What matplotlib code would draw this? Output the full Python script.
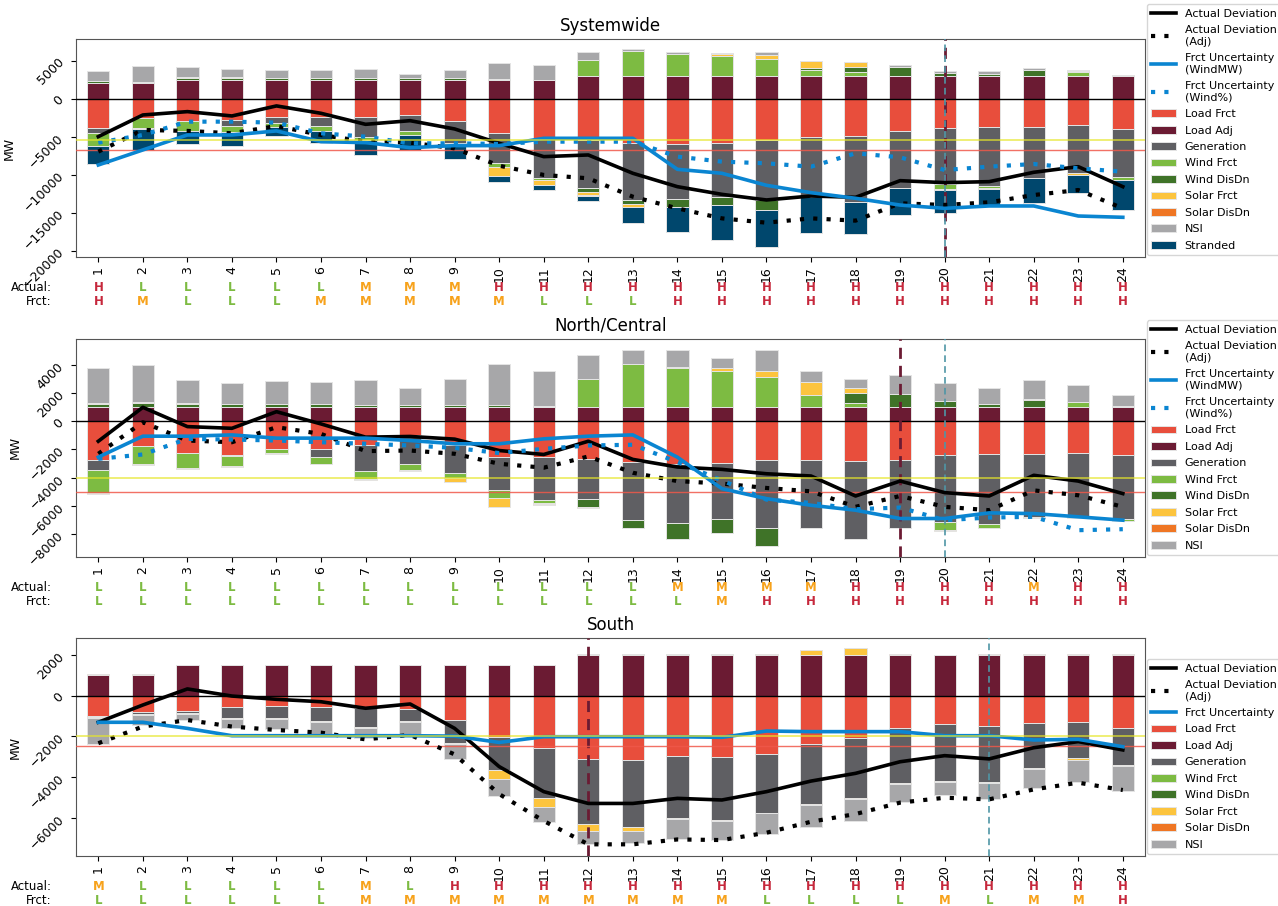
"""
Hourly deviation breakdown by region (Systemwide / North-Central / South).
Stacked components around zero plus deviation and forecast-uncertainty lines.
"""

import numpy as np
import matplotlib
matplotlib.use("Agg")
import matplotlib.pyplot as plt
from matplotlib.transforms import blended_transform_factory

hours = list(range(1, 25))

# ---------------- Systemwide ----------------
sw_load_frct = [-3800, -2600, -3000, -2800, -2400, -2450, -2400, -2150, -2900, -4550, -5200, -5450,
                -5900, -5950, -5800, -5450, -5100, -4900, -4250, -3800, -3750, -3750, -3450, -4050]
sw_load_adj = [2000, 2000, 2500, 2500, 2500, 2500, 2500, 2500, 2500, 2500, 2500, 3000,
               3000, 3000, 3000, 3000, 3000, 3000, 3000, 3000, 3000, 3000, 3000, 3000]
sw_generation = [-750, 0, 0, -800, -850, -1200, -2600, -2100, -3000, -3950, -5250, -6350,
                 -7450, -7300, -7100, -7900, -7900, -8650, -7550, -7400, -7700, -6750, -6300, -6200]
sw_wind_frct = [-1700, -1300, -1300, -750, -450, -550, -450, -500, 0, -450, -200, 2100,
                3200, 2900, 2650, 2180, 800, 440, 0, -700, -350, 0, 480, -450]
sw_wind_disdn = [300, 200, 250, 250, 150, 150, 150, 150, 150, 100, 0, -500,
                 -500, -1050, -1100, -1300, 200, 660, 1100, 350, 250, 700, 100, 0]
sw_solar_frct = [0, -100, 0, 0, 0, 0, 0, 0, -300, -1230, -660, -350,
                 -350, 0, 250, 570, 1000, 700, 0, -100, -100, 0, -300, 0]
sw_solar_disdn = [50, 50, 100, 100, 100, 100, 100, 100, 50, 0, 0, -100,
                  -100, 0, 0, 0, 0, 0, 0, 0, 50, 0, 0, 0]
sw_nsi = [1300, 2000, 1300, 1000, 1000, 1000, 1100, 500, 1100, 2100, 1900, 1000,
          350, 200, 100, 440, 0, 0, 350, 300, 300, 300, 150, 150]
sw_stranded = [-2400, -2750, -1650, -1830, -1200, -1700, -1950, -2000, -1780, -740, -700, -700,
               -2000, -3300, -4600, -4900, -4700, -4300, -3500, -3100, -2100, -3200, -2400, -4000]

sw_actual = [-5000, -2150, -1710, -2280, -960, -1930, -3380, -2900, -3990, -5880, -7630, -7410,
             -9820, -11580, -12590, -13330, -12810, -12980, -10790, -11050, -10920, -9690, -8950, -11580]
sw_actual_adj = [-6970, -4120, -4250, -4560, -3600, -4780, -5660, -5790, -6540, -8820, -10040, -10480,
                 -12900, -14430, -15750, -16320, -15750, -16050, -13770, -13990, -13640, -12680, -12020, -14430]
sw_unc_mw = [-8730, -6750, -4780, -4780, -4250, -5660, -5790, -6450, -6180, -6180, -5220, -5220,
             -5220, -9300, -9820, -11400, -12370, -13110, -14000, -14430, -14120, -14120, -15440, -15610]
sw_unc_pct = [-5790, -4780, -3030, -3030, -3160, -4560, -5000, -5880, -5880, -5960, -5660, -5660,
              -5660, -7630, -8290, -8510, -8950, -7190, -7720, -9390, -8950, -8600, -9170, -9610]
sw_actual_rating = list("HLLLLLMMMHHHHHHHHHHHHHHH")
sw_frct_rating = list("HMLLLMMMMMLLLHHHHHHHHHHH")

# ---------------- North/Central ----------------
nc_load_frct = [-2780, -1790, -2240, -2380, -1960, -1960, -1720, -1010, -1720, -2550, -2550, -2670,
                -2900, -3070, -2950, -2740, -2780, -2850, -2780, -2380, -2310, -2360, -2240, -2380]
nc_load_adj = [1000] * 24
nc_generation = [-660, 0, 0, -100, 0, -590, -1840, -2010, -1960, -2310, -3020, -2830,
                 -4130, -4190, -3960, -4810, -4790, -5520, -4790, -4770, -5020, -4430, -4550, -4600]
nc_wind_frct = [-1650, -1230, -1090, -700, -300, -470, -520, -420, -350, -560, -230, 2000,
                3100, 2750, 2540, 2110, 890, 330, 0, -590, -290, 0, 350, -80]
nc_wind_disdn = [240, 300, 240, 240, 210, 240, 170, 170, 170, 120, 50, -590,
                 -520, -1110, -1060, -1320, 0, 700, 930, 420, 210, 540, 0, 100]
nc_solar_frct = [-70, -70, -70, -50, -50, 0, -70, -70, -280, -660, -100, -50,
                 -50, 70, 240, 470, 880, 330, -50, -50, 0, -50, -50, -30]
nc_solar_disdn = [50, 50, 50, 0, 0, 0, 0, 0, 0, 0, -70, 0,
                  0, 0, 0, 0, 0, 0, 0, 0, 0, 50, 50, 0]
nc_nsi = [2480, 2650, 1660, 1500, 1670, 1570, 1780, 1160, 1830, 2940, 2530, 1690,
          970, 1230, 750, 1490, 810, 660, 1370, 1290, 1120, 1360, 1150, 790]

nc_actual = [-1420, 990, -380, -500, 680, -190, -1130, -1080, -1270, -2080, -2360, -1420,
             -2710, -3250, -3420, -3730, -3890, -5310, -4250, -5070, -5310, -3840, -4250, -5140]
nc_actual_adj = [-2310, -70, -1370, -1490, -420, -900, -2120, -2080, -2310, -3020, -3300, -2500,
                 -3660, -4250, -4430, -4740, -4980, -6080, -5310, -6080, -6320, -4910, -5260, -6080]
nc_unc_mw = [-2550, -1060, -1060, -970, -1200, -1200, -1200, -1370, -1600, -1600, -1250, -1060,
             -970, -2550, -4790, -5500, -5970, -6320, -6910, -6910, -6510, -6560, -6790, -7030]
nc_unc_pct = [-2670, -2360, -1250, -1300, -1370, -1490, -1600, -1720, -1890, -2260, -1960, -1720,
              -1670, -2900, -4200, -5570, -5800, -6250, -6130, -7030, -6840, -6790, -7740, -7670]
nc_actual_rating = list("LLLLLLLLLLLLLMMMMHHHHMHH")
nc_frct_rating = list("LLLLLLLLLLLLLLMHHHHHHHHH")

# ---------------- South ----------------
so_load_frct = [-1000, -790, -740, -540, -510, -570, -620, -670, -1200, -2020, -2590, -3110,
                -3160, -2950, -3000, -2890, -2380, -2070, -1570, -1390, -1480, -1360, -1300, -1610]
so_load_adj = [1000, 1000, 1500, 1500, 1500, 1500, 1500, 1500, 1500, 1500, 1500, 2000,
               2000, 2000, 2000, 2000, 2000, 2000, 2000, 2000, 2000, 2000, 2000, 2000]
so_generation = [-70, -110, -100, -570, -600, -680, -900, -580, -1110, -1640, -2430, -3220,
                 -3280, -3050, -3110, -2860, -2960, -2950, -2740, -2790, -2750, -2210, -1780, -1800]
so_wind_frct = [0, 0, 0, 0, 0, 0, 0, 0, 0, 0, 30, 30,
                30, 30, 30, 0, 0, 0, 0, 0, 0, 0, 0, 0]
so_wind_disdn = [0] * 24
so_solar_frct = [-50, -50, -50, -50, -50, -50, -80, -70, -80, -440, -470, -330,
                 -200, -60, 0, 40, 220, 340, -50, -50, -50, -50, -60, -70]
so_solar_disdn = [50, 50, 30, 30, 30, 30, 30, 30, 20, 0, 0, 0,
                  0, 0, -30, -30, -50, -50, 30, 20, 30, 30, 30, 30]
so_nsi = [-1260, -490, -310, -440, -490, -590, -500, -610, -720, -830, -740, -650,
          -590, -1010, -960, -1040, -1050, -1090, -850, -660, -820, -940, -1090, -1210]

so_actual = [-1310, -460, 330, -20, -180, -300, -620, -410, -1610, -3490, -4720, -5300,
             -5300, -5050, -5130, -4720, -4200, -3820, -3250, -2950, -3110, -2560, -2260, -2670]
so_actual_adj = [-2340, -1520, -1200, -1520, -1690, -1820, -2150, -1930, -2890, -4840, -6160, -7310,
                 -7310, -7070, -7100, -6740, -6200, -5820, -5260, -5020, -5100, -4610, -4280, -4640]
so_unc = [-1310, -1310, -1610, -1970, -1970, -1970, -1970, -1970, -1990, -2300, -2020, -2020,
          -2020, -2020, -2050, -1740, -1770, -1770, -1770, -1970, -1970, -2180, -2150, -2510]
so_actual_rating = list("MLLLLLMLHHHHHHHHHHHHHHHH")
so_frct_rating = list("LLLLLLMMMMMMMMMLLLLMLMMH")

# ---------------- style ----------------
COMP_COLORS = {
    'Load Frct': '#e84e3c',
    'Load Adj': '#6b1b33',
    'Generation': '#5f5f63',
    'Wind Frct': '#7dbb42',
    'Wind DisDn': '#3f7328',
    'Solar Frct': '#fcc43e',
    'Solar DisDn': '#ef7624',
    'NSI': '#a7a7a9',
    'Stranded': '#00476d',
}
RATING_COLORS = {'L': '#7dbb42', 'M': '#f7a21b', 'H': '#c6283c'}
BLUE = '#0a85d1'


def draw_panel(ax, title, comps, lines, actual_r, frct_r, hlines, vlines, ylim, yticks):
    """Draw one regional panel."""
    x = np.array(hours)
    pos = np.zeros(len(x))
    neg = np.zeros(len(x))
    bar_handles = []
    for name, vals in comps:
        v = np.array(vals, dtype=float)
        bottom = np.where(v >= 0, pos, neg)
        h = ax.bar(x, v, width=0.5, bottom=bottom, color=COMP_COLORS[name],
                   edgecolor='#e4e4e4', linewidth=0.7, label=name, zorder=2)
        bar_handles.append(h)
        pos += np.clip(v, 0, None)
        neg += np.clip(v, None, 0)

    # reference lines
    ax.axhline(0, color='black', lw=1, zorder=3)
    ax.axvline(vlines[0], color='#6b1b33', lw=2, ls=(0, (4, 2.5)), zorder=3)
    ax.axvline(vlines[1], color='#4f96a6', lw=1.2, ls=(0, (4, 2.5)), zorder=3)

    line_handles = []
    for label, vals, color, ls in lines:
        if ls == ':':
            h, = ax.plot(x, vals, color=color, lw=3, ls=(0, (1, 2.2)), label=label, zorder=4)
        else:
            h, = ax.plot(x, vals, color=color, lw=2.6, label=label, zorder=4)
        line_handles.append(h)

    # threshold lines sit on top, semi-transparent
    ax.axhline(hlines[0], color='#e6e62a', lw=1.3, alpha=0.7, zorder=5)
    ax.axhline(hlines[1], color='#f0584a', lw=1, alpha=0.85, zorder=3)

    ax.set_xlim(0.5, 24.5)
    ax.set_ylim(*ylim)
    ax.set_yticks(yticks)
    ax.set_xticks(x)
    ax.set_xticklabels([str(h) for h in hours], rotation=90, fontsize=9)
    plt.setp(ax.get_yticklabels(), rotation=45, fontsize=9)
    ax.set_ylabel('MW', fontsize=9)
    ax.set_title(title, fontsize=12)
    for s in ax.spines.values():
        s.set_color('#555555')

    # rating rows under the axis
    trans = blended_transform_factory(ax.transData, ax.transAxes)
    ax.text(-0.05, -0.14, 'Actual:', transform=trans, ha='right', va='center', fontsize=8.5)
    ax.text(-0.05, -0.205, 'Frct:', transform=trans, ha='right', va='center', fontsize=8.5)
    for xi, a, f in zip(x, actual_r, frct_r):
        ax.text(xi, -0.14, a, transform=trans, ha='center', va='center',
                fontsize=8.5, fontweight='bold', color=RATING_COLORS[a])
        ax.text(xi, -0.205, f, transform=trans, ha='center', va='center',
                fontsize=8.5, fontweight='bold', color=RATING_COLORS[f])

    ax.legend(handles=line_handles + bar_handles, loc='lower left', bbox_to_anchor=(1.0, 0.0),
              borderaxespad=0.15, fontsize=8, handlelength=2.2, labelspacing=0.58)


fig = plt.figure(figsize=(12.78, 9.06), dpi=100)
ax1 = fig.add_axes([0.0595, 0.7166, 0.8365, 0.2400])
ax2 = fig.add_axes([0.0595, 0.3856, 0.8365, 0.2400])
ax3 = fig.add_axes([0.0595, 0.0555, 0.8365, 0.2400])

draw_panel(
    ax1, 'Systemwide',
    [('Load Frct', sw_load_frct), ('Load Adj', sw_load_adj), ('Generation', sw_generation),
     ('Wind Frct', sw_wind_frct), ('Wind DisDn', sw_wind_disdn), ('Solar Frct', sw_solar_frct),
     ('Solar DisDn', sw_solar_disdn), ('NSI', sw_nsi), ('Stranded', sw_stranded)],
    [('Actual Deviation', sw_actual, 'black', '-'),
     ('Actual Deviation\n(Adj)', sw_actual_adj, 'black', ':'),
     ('Frct Uncertainty\n(WindMW)', sw_unc_mw, BLUE, '-'),
     ('Frct Uncertainty\n(Wind%)', sw_unc_pct, BLUE, ':')],
    sw_actual_rating, sw_frct_rating, (-5450, -6750), (20, 20),
    (-20800, 7800), [-20000, -15000, -10000, -5000, 0, 5000])

draw_panel(
    ax2, 'North/Central',
    [('Load Frct', nc_load_frct), ('Load Adj', nc_load_adj), ('Generation', nc_generation),
     ('Wind Frct', nc_wind_frct), ('Wind DisDn', nc_wind_disdn), ('Solar Frct', nc_solar_frct),
     ('Solar DisDn', nc_solar_disdn), ('NSI', nc_nsi)],
    [('Actual Deviation', nc_actual, 'black', '-'),
     ('Actual Deviation\n(Adj)', nc_actual_adj, 'black', ':'),
     ('Frct Uncertainty\n(WindMW)', nc_unc_mw, BLUE, '-'),
     ('Frct Uncertainty\n(Wind%)', nc_unc_pct, BLUE, ':')],
    nc_actual_rating, nc_frct_rating, (-4030, -5020), (19, 20),
    (-9620, 5830), [-8000, -6000, -4000, -2000, 0, 2000, 4000])

draw_panel(
    ax3, 'South',
    [('Load Frct', so_load_frct), ('Load Adj', so_load_adj), ('Generation', so_generation),
     ('Wind Frct', so_wind_frct), ('Wind DisDn', so_wind_disdn), ('Solar Frct', so_solar_frct),
     ('Solar DisDn', so_solar_disdn), ('NSI', so_nsi)],
    [('Actual Deviation', so_actual, 'black', '-'),
     ('Actual Deviation\n(Adj)', so_actual_adj, 'black', ':'),
     ('Frct Uncertainty', so_unc, BLUE, '-')],
    so_actual_rating, so_frct_rating, (-1980, -2480), (12, 21),
    (-7870, 2820), [-6000, -4000, -2000, 0, 2000])

fig.savefig('out.png', dpi=100)
